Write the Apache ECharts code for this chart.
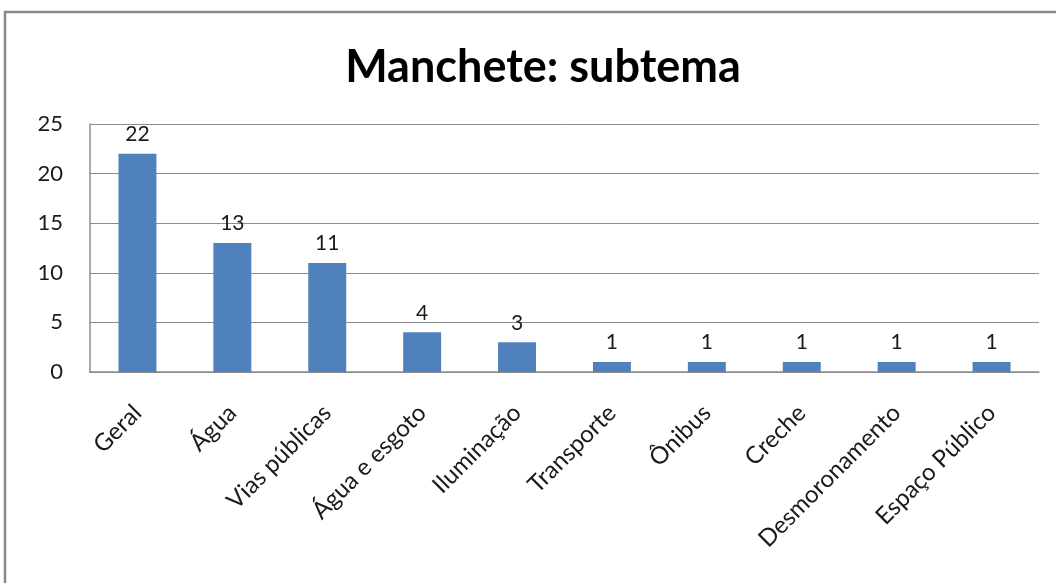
<!DOCTYPE html>
<html>
<head>
<meta charset="utf-8">
<style>
  html, body { margin: 0; padding: 0; background: #fff; }
  #chart { width: 1056px; height: 583px; }
</style>
<script src="https://cdn.jsdelivr.net/npm/echarts@6/dist/echarts.min.js"></script>
</head>
<body>
<div id="chart"></div>
<script>
// Subtopics of the headline and how many items fall under each
const categories = ['Geral', 'Água', 'Vias públicas', 'Água e esgoto', 'Iluminação',
  'Transporte', 'Ônibus', 'Creche', 'Desmoronamento', 'Espaço Público'];
const counts = [22, 13, 11, 4, 3, 1, 1, 1, 1, 1];
const yTicks = [0, 5, 10, 15, 20, 25];

const FONT = 'Lato, "Open Sans", sans-serif';
const chart = echarts.init(document.getElementById('chart'), null, { renderer: 'canvas' });

chart.setOption({
  animation: false,
  backgroundColor: '#ffffff',
  title: {
    text: 'Manchete: subtema',
    left: 538,
    top: 40,
    textAlign: 'center',
    textStyle: { fontFamily: FONT, fontWeight: 'bold', fontSize: 45, color: '#000' }
  },
  graphic: [{
    type: 'rect',
    shape: { x: 5, y: 12, width: 1100, height: 620 },
    style: { fill: 'none', stroke: '#8a8a8a', lineWidth: 2.5 },
    silent: true
  }],
  grid: { left: 90, right: 17, top: 124, bottom: 211 },
  xAxis: {
    type: 'category',
    data: categories,
    axisLine: { show: true, lineStyle: { color: '#8c8c8c', width: 1.5 } },
    axisTick: { show: false },
    axisLabel: {
      rotate: 45,
      interval: 0,
      margin: 37,
      fontFamily: FONT,
      fontSize: 24,
      color: '#1a1a1a'
    }
  },
  yAxis: {
    type: 'value',
    min: yTicks[0],
    max: yTicks[yTicks.length - 1],
    interval: yTicks[1] - yTicks[0],
    axisLine: { show: true, lineStyle: { color: '#8c8c8c', width: 1.5 } },
    axisTick: { show: false },
    splitLine: { show: true, lineStyle: { color: '#8c8c8c', width: 1 } },
    axisLabel: {
      margin: 27,
      fontFamily: FONT,
      fontSize: 22,
      color: '#1a1a1a'
    }
  },
  series: [{
    type: 'bar',
    data: counts,
    barWidth: '40%',
    itemStyle: { color: '#4f81bd' },
    label: {
      show: true,
      position: 'top',
      distance: 9,
      fontFamily: FONT,
      fontSize: 21,
      color: '#1a1a1a'
    }
  }]
});
</script>
</body>
</html>
